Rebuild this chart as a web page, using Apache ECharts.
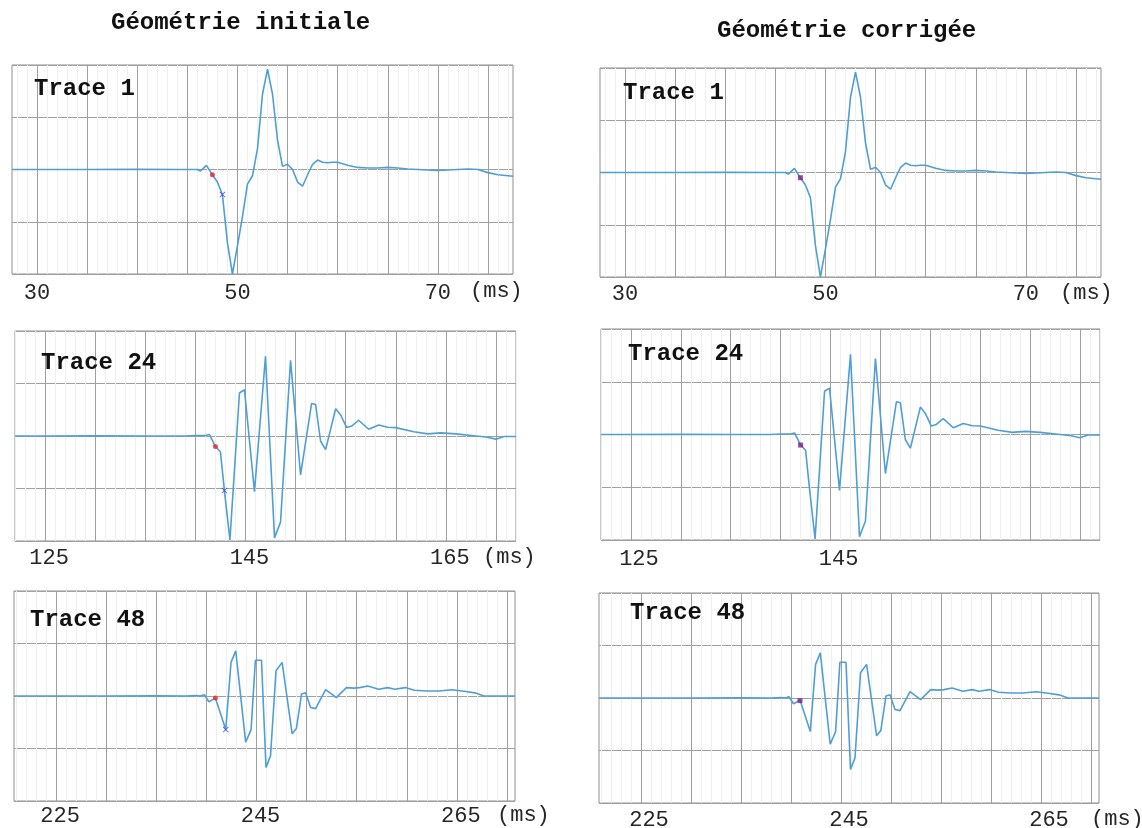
<!DOCTYPE html>
<html>
<head>
<meta charset="utf-8">
<script src="https://cdn.jsdelivr.net/npm/echarts@6/dist/echarts.min.js"></script>
<style>
  html, body { margin: 0; padding: 0; background: #ffffff; }
  #chart { width: 1142px; height: 828px; }
</style>
</head>
<body>
<div id="chart"></div>
<script>
// ---- Trace 1 (time in ms, normalised amplitude)
const trace1Time = [27.5, 30, 35, 40, 44, 45, 46, 46.3, 46.9, 47.5, 48, 48.5, 49, 49.5, 50, 50.5, 51, 51.5, 52, 52.5, 53, 53.5, 54, 54.5, 55, 55.5, 56, 56.5, 57, 57.5, 58, 58.5, 59, 59.5, 60, 61, 62, 63, 64, 65, 66, 67, 68, 69, 70, 71, 72, 73, 74, 75, 76, 77, 77.5];
const trace1Amp  = [0, 0, 0, 0.002, 0, 0, 0, -0.015, 0.04, -0.05, -0.12, -0.24, -0.7, -1.0, -0.73, -0.45, -0.14, -0.06, 0.2, 0.72, 0.96, 0.72, 0.28, 0.03, 0.05, 0.0, -0.12, -0.16, -0.05, 0.05, 0.09, 0.07, 0.065, 0.07, 0.07, 0.04, 0.02, 0.015, 0.015, 0.02, 0.015, 0.005, 0, -0.005, -0.01, -0.005, 0, 0.005, 0, -0.03, -0.05, -0.06, -0.065];

// ---- Trace 24
const trace24Time = [122, 125, 130, 135, 139, 140, 141, 141.4, 142, 142.5, 142.9, 143.45, 144.4, 144.9, 145.9, 147, 147.9, 148.5, 149.5, 150.5, 151.6, 152, 152.5, 153, 154, 154.5, 155.1, 155.6, 156.3, 157.3, 158.3, 159.2, 160, 161.8, 163.2, 164.5, 166, 168, 169, 170, 170.8, 172];
const trace24Amp  = [0, 0, 0.002, 0, 0, 0.005, 0.005, 0.015, -0.1, -0.15, -0.52, -0.99, 0.41, 0.44, -0.53, 0.76, -0.97, -0.82, 0.72, -0.37, 0.31, 0.30, -0.05, -0.13, 0.26, 0.2, 0.08, 0.095, 0.15, 0.064, 0.105, 0.083, 0.08, 0.04, 0.02, 0.03, 0.02, 0.0, -0.01, -0.03, -0.005, -0.005];

// ---- Trace 48
const trace48Time = [220.8, 225, 230, 235, 238, 239, 239.4, 239.8, 240.25, 240.9, 241.93, 242.46, 242.93, 243.92, 244.46, 244.89, 245.5, 245.95, 246.4, 246.95, 247.56, 248.56, 248.98, 249.5, 249.9, 250.4, 250.9, 251.9, 252.97, 253.97, 254.7, 255.3, 256.1, 257.2, 258.1, 258.8, 259.85, 260.75, 262, 263.2, 264.5, 265.7, 266.8, 267.7, 269.3, 270.8];
const trace48Amp  = [0, 0, 0, 0.002, 0, 0.005, 0, 0.012, -0.055, -0.02, -0.32, 0.32, 0.43, -0.44, -0.32, 0.34, 0.34, -0.68, -0.57, 0.24, 0.32, -0.36, -0.31, 0.02, 0.03, -0.11, -0.12, 0.06, -0.015, 0.08, 0.075, 0.08, 0.095, 0.065, 0.08, 0.065, 0.08, 0.055, 0.047, 0.047, 0.06, 0.045, 0.03, 0, 0, 0];

// ---- First-break picks (one entry per trace: 1, 24, 48)
const pickInitialTime   = [47.5, 142, 240.9];
const pickInitialAmp    = [-0.05, -0.1, -0.02];
const pickAutoTime      = [48.5, 142.9, 241.93];
const pickAutoAmp       = [-0.24, -0.52, -0.32];
const pickCorrectedTime = [47.5, 142, 240.9];
const pickCorrectedAmp  = [-0.05, -0.1, -0.025];

// ---- Text
const columnTitles = ['Géométrie initiale', 'Géométrie corrigée'];
const traceNames = ['Trace 1', 'Trace 24', 'Trace 48'];
const tickLabels1 = [30, 50, 70];
const tickLabels24 = [125, 145, 165];
const tickLabels24Short = [125, 145];
const tickLabels48 = [225, 245, 265];
const unitLabel = '(ms)';

const traceTimes = [trace1Time, trace24Time, trace48Time];
const traceAmps = [trace1Amp, trace24Amp, trace48Amp];

// ---- Panel layout
const panels = [
  { box: [12, 65, 501, 209],  range: [27.5, 77.5],   trace: 0, ticks: tickLabels1,       pad: 0,  margin: 8, unit: [470, 292],  name: [34, 89],   corrected: false },
  { box: [600, 68, 501, 209], range: [27.5, 77.5],   trace: 0, ticks: tickLabels1,       pad: 0,  margin: 6, unit: [1060, 294], name: [623, 93],  corrected: true },
  { box: [15, 331, 501, 210], range: [122, 172],     trace: 1, ticks: tickLabels24,      pad: 8,  margin: 6, unit: [483, 558],  name: [41, 363],  corrected: false },
  { box: [601, 329, 499, 211],range: [122, 172],     trace: 1, ticks: tickLabels24Short, pad: 16, margin: 8, unit: null,        name: [628, 354], corrected: true },
  { box: [14, 591, 501, 210], range: [220.8, 270.8], trace: 2, ticks: tickLabels48,      pad: 8,  margin: 4, unit: [497, 816],  name: [30, 620],  corrected: false },
  { box: [599, 593, 500, 210],range: [220.8, 270.8], trace: 2, ticks: tickLabels48,      pad: 16, margin: 6, unit: [1091, 820], name: [630, 613], corrected: true }
];

const MONO = "'Liberation Mono', 'Courier New', 'DejaVu Sans Mono', monospace";
const LINE_COLOR = '#4f9fd4';
const MAJOR = '#a0a0a0';
const MINOR = '#efefef';

function toPairs(ts, vs) { return ts.map((t, i) => [t, vs[i]]); }

// vertical grid: 1 ms minor lines, 5 ms major lines
function timeGrid(range) {
  const minor = [], major = [];
  for (let k = Math.ceil(range[0]); k <= Math.floor(range[1]); k++) {
    if (k % 5 === 0) major.push({ xAxis: k, lineStyle: { color: MAJOR, width: 1, type: 'solid' } });
    else minor.push({ xAxis: k, lineStyle: { color: MINOR, width: 1, type: 'solid' } });
  }
  return minor.concat(major);
}

const grids = [], xAxes = [], yAxes = [], series = [], graphics = [];

panels.forEach((p, i) => {
  grids.push({
    left: p.box[0], top: p.box[1], width: p.box[2], height: p.box[3],
    show: true, borderColor: '#8f8f8f', borderWidth: 1, backgroundColor: 'transparent',
    containLabel: false, outerBoundsMode: 'none'
  });
  xAxes.push({
    type: 'value', gridIndex: i, min: p.range[0], max: p.range[1],
    axisLine: { show: false }, axisTick: { show: false }, splitLine: { show: false },
    axisLabel: {
      customValues: p.ticks, margin: p.margin, fontFamily: MONO, fontSize: 22,
      color: '#262626', padding: [0, 0, 0, p.pad]
    }
  });
  yAxes.push({
    type: 'value', gridIndex: i, min: -1, max: 1, interval: 0.5,
    axisLine: { show: false }, axisTick: { show: false }, axisLabel: { show: false },
    splitLine: { show: true, lineStyle: { color: MAJOR, width: 1 } }
  });

  const k = p.trace;
  series.push({
    type: 'line', xAxisIndex: i, yAxisIndex: i,
    data: toPairs(traceTimes[k], traceAmps[k]),
    showSymbol: false, symbol: 'none', smooth: false, clip: true,
    lineStyle: { color: LINE_COLOR, width: 1.6 },
    z: 3, silent: true,
    markLine: {
      silent: true, symbol: 'none', z: 1, animation: false,
      label: { show: false }, emphasis: { disabled: true },
      data: timeGrid(p.range)
    }
  });

  if (!p.corrected) {
    series.push({
      type: 'scatter', xAxisIndex: i, yAxisIndex: i, z: 4, silent: true,
      data: [[pickInitialTime[k], pickInitialAmp[k]]],
      symbol: 'circle', symbolSize: 5,
      itemStyle: { color: '#e8262b' }
    });
    series.push({
      type: 'scatter', xAxisIndex: i, yAxisIndex: i, z: 4, silent: true,
      data: [[pickAutoTime[k], pickAutoAmp[k]]],
      symbol: 'path://M0,1L1,0L5,4L9,0L10,1L6,5L10,9L9,10L5,6L1,10L0,9L4,5Z', symbolSize: 6,
      itemStyle: { color: '#3a3ad8' }
    });
  } else {
    series.push({
      type: 'scatter', xAxisIndex: i, yAxisIndex: i, z: 4, silent: true,
      data: [[pickCorrectedTime[k], pickCorrectedAmp[k]]],
      symbol: 'rect', symbolSize: 5,
      itemStyle: { color: '#7d1f86' }
    });
  }

  graphics.push({
    type: 'text', left: p.name[0], top: p.name[1] - 12, z: 10,
    style: { text: traceNames[k], font: 'bold 24px ' + MONO, fill: '#111111' }
  });
  if (p.unit) {
    graphics.push({
      type: 'text', left: p.unit[0], top: p.unit[1] - 12, z: 10,
      style: { text: unitLabel, font: '22px ' + MONO, fill: '#262626' }
    });
  }
});

graphics.push({
  type: 'text', left: 242 - 131, top: 11, z: 10,
  style: { text: columnTitles[0], font: 'bold 24px ' + MONO, fill: '#111111' }
});
graphics.push({
  type: 'text', left: 848 - 131, top: 19, z: 10,
  style: { text: columnTitles[1], font: 'bold 24px ' + MONO, fill: '#111111' }
});

const chart = echarts.init(document.getElementById('chart'), null, { renderer: 'canvas' });
chart.setOption({
  animation: false,
  backgroundColor: '#ffffff',
  grid: grids,
  xAxis: xAxes,
  yAxis: yAxes,
  series: series,
  graphic: graphics
});
</script>
</body>
</html>
